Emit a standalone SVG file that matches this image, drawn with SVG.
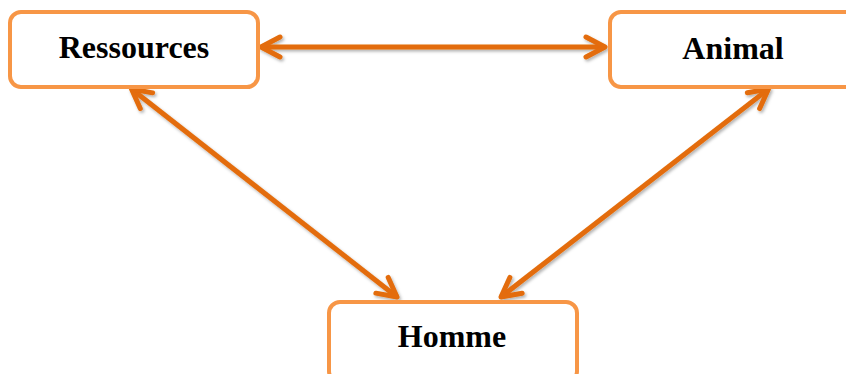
<svg xmlns="http://www.w3.org/2000/svg" width="846" height="374" viewBox="0 0 846 374">
<style>
.box{fill:#fff;stroke:#F79646;stroke-width:4}
.lbl{font-family:"Liberation Serif","Times New Roman",serif;font-weight:bold;font-size:32px;fill:#000;text-anchor:middle}
.conn{stroke:#E36C09;stroke-width:5;fill:none;marker-start:url(#ah);marker-end:url(#ah)}
</style>
<defs>
<filter id="sh" x="-10%" y="-10%" width="130%" height="130%">
<feDropShadow dx="1.5" dy="2" stdDeviation="1.5" flood-color="#000" flood-opacity="0.3"/>
</filter>
<marker id="ah" markerUnits="userSpaceOnUse" viewBox="-26 -14 30 28" refX="0" refY="0" markerWidth="30" markerHeight="28" orient="auto-start-reverse" overflow="visible">
<path d="M-19,-10 L0,0 L-19,10" fill="none" stroke="#E36C09" stroke-width="5" stroke-linecap="round" stroke-linejoin="round"/>
</marker>
</defs>
<rect width="846" height="374" fill="#fff"/>
<g id="connectors" filter="url(#sh)">
<line class="conn" x1="261" y1="47" x2="605" y2="47"/>
<line class="conn" x1="131.5" y1="89" x2="397" y2="297"/>
<line class="conn" x1="768.5" y1="89" x2="501" y2="297"/>
</g>
<g id="ressources">
<rect class="box" x="10" y="12" width="248" height="75" rx="11"/>
<text class="lbl" x="134" y="58">Ressources</text>
</g>
<g id="animal">
<rect class="box" x="610" y="12" width="248" height="75" rx="11"/>
<text class="lbl" x="733" y="59">Animal</text>
</g>
<g id="homme">
<rect class="box" x="329" y="302" width="248" height="80" rx="11"/>
<text class="lbl" x="452" y="347">Homme</text>
</g>
</svg>
